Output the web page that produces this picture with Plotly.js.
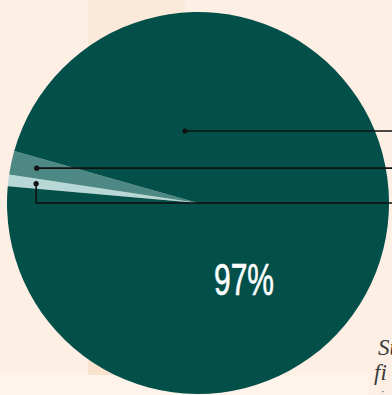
<!DOCTYPE html>
<html>
<head>
<meta charset="utf-8">
<script src="https://cdn.plot.ly/plotly-3.0.1.min.js"></script>
<style>
html,body{margin:0;padding:0;background:#fdefe3;}
#chart{width:392px;height:395px;}
</style>
</head>
<body>
<div id="chart"></div>
<script>
// Data
const categories = ["Light share", "Medium share", "Main share"];
const values = [1, 2, 97];
const colors = ["#b8d8d8", "#4e8884", "#034f4a"];
const centerLabel = "97%";
const noteLines = ["Su", "fi", "·"];

const W = 392, H = 395;
const cx = 198, cy = 203, R = 191;
const rotation = 275; // compass degrees where first slice starts, clockwise

function px(x){ return x / W; }
function py(y){ return 1 - y / H; }

// mid-angle positions of small slices (computed from data)
const total = values.reduce((a,b)=>a+b,0);
function midPoint(i, r){
  let cum = 0;
  for (let k=0;k<i;k++) cum += values[k];
  const ang = (rotation + (cum + values[i]/2) / total * 360) * Math.PI/180;
  return [cx + r*Math.sin(ang), cy - r*Math.cos(ang)];
}
const pLight = midPoint(0, 163);
const pMed = midPoint(1, 165);
const pMain = [185, 131];

const shapes = [
  // background texture panels
  {type:"rect", xref:"paper", yref:"paper", x0:px(88), x1:px(185), y0:py(0), y1:py(375), fillcolor:"#f9dfc6", opacity:0.3, line:{width:0}, layer:"below"},
  {type:"rect", xref:"paper", yref:"paper", x0:px(88), x1:px(260), y0:py(300), y1:py(375), fillcolor:"#f8d9bd", opacity:0.4, line:{width:0}, layer:"below"},
  {type:"rect", xref:"paper", yref:"paper", x0:0, x1:px(368), y0:py(375), y1:0, fillcolor:"#fff4ec", opacity:1, line:{width:0}, layer:"below"},
];
const lineStyle = {color:"#111111", width:1.6};
// leader lines
shapes.push({type:"line", xref:"paper", yref:"paper", x0:px(pMain[0]), y0:py(pMain[1]), x1:1.02, y1:py(pMain[1]), line:lineStyle});
shapes.push({type:"line", xref:"paper", yref:"paper", x0:px(pMed[0]), y0:py(pMed[1]), x1:1.02, y1:py(pMed[1]), line:lineStyle});
shapes.push({type:"path", xref:"paper", yref:"paper",
  path:`M ${px(pLight[0])} ${py(pLight[1])} L ${px(pLight[0])} ${py(203)} L 1.02 ${py(203)}`,
  line:lineStyle});
// dots
[pMain, pMed, pLight].forEach(p=>{
  shapes.push({type:"circle", xref:"paper", yref:"paper",
    x0:px(p[0]-2.6), x1:px(p[0]+2.6), y0:py(p[1]+2.6), y1:py(p[1]-2.6),
    fillcolor:"#111111", line:{width:0}});
});

const trace = {
  type:"pie",
  labels: categories,
  values: values,
  sort:false,
  direction:"clockwise",
  rotation: rotation,
  marker:{colors: colors, line:{width:0}},
  textinfo:"none",
  hoverinfo:"none",
  showlegend:false,
  domain:{x:[(cx-R)/W,(cx+R)/W], y:[(H-cy-R)/H,(H-cy+R)/H]}
};

const annotations = [
  {xref:"paper", yref:"paper", x:px(244), y:py(279), text:centerLabel, showarrow:false,
   xanchor:"center", yanchor:"middle", font:{family:"Liberation Sans, Arial, sans-serif", size:44, color:"#ffffff", weight:500}},
  {xref:"paper", yref:"paper", x:px(376), y:py(347), text:"<i>"+noteLines[0]+"</i>", showarrow:false,
   xanchor:"left", yanchor:"middle", font:{family:"Liberation Serif, serif", size:23, color:"#3a3a3a"}},
  {xref:"paper", yref:"paper", x:px(372), y:py(372), text:"<i>"+noteLines[1]+"</i>", showarrow:false,
   xanchor:"left", yanchor:"middle", font:{family:"Liberation Serif, serif", size:23, color:"#3a3a3a"}},
  {xref:"paper", yref:"paper", x:px(379), y:py(391), text:noteLines[2], showarrow:false,
   xanchor:"left", yanchor:"middle", font:{family:"Liberation Serif, serif", size:11, color:"#3a3a3a"}}
];

Plotly.newPlot("chart", [trace], {
  width:W, height:H,
  margin:{l:0,r:0,t:0,b:0},
  paper_bgcolor:"#fdefe3",
  plot_bgcolor:"rgba(0,0,0,0)",
  shapes: shapes,
  annotations: annotations
}, {displayModeBar:false, staticPlot:true}).then(gd=>{
  const t = gd.querySelector('.annotation[data-index="0"] text');
  if (t) {
    t.setAttribute('textLength', '60');
    t.setAttribute('lengthAdjust', 'spacingAndGlyphs');
    t.style.strokeWidth = '0.6px';
    t.style.stroke = '#ffffff';
  }
});
</script>
</body>
</html>
